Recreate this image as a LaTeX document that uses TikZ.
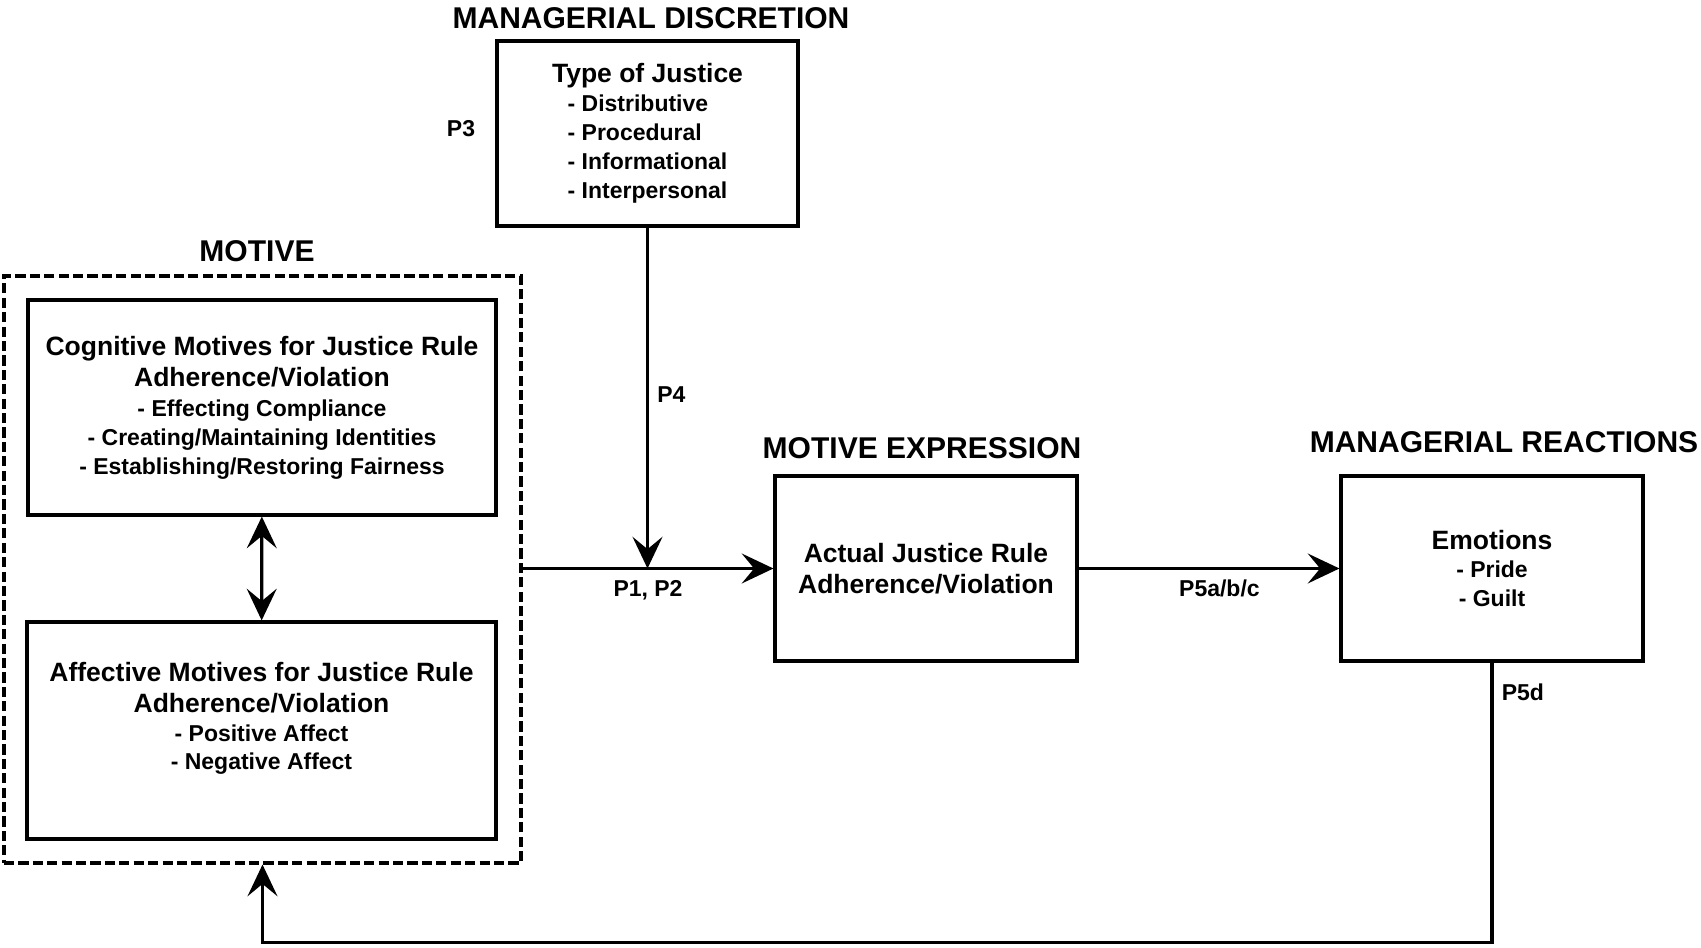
\documentclass[tikz,border=0pt]{standalone}
\usepackage{fontspec}
\setmainfont{Liberation Sans}
\usetikzlibrary{arrows.meta}

\newcommand{\titlefont}{\fontsize{8.54}{10.2}\selectfont\bfseries}
\newcommand{\headfont}{\fontsize{7.54}{8.8}\selectfont\bfseries}
\newcommand{\itemfont}{\fontsize{6.54}{8.2}\selectfont\bfseries}

\begin{document}
\begin{tikzpicture}[>={Stealth[length=9pt,width=8.5pt,inset=3.5pt]},
  box/.style={draw,line width=0.9pt,align=center,font=\itemfont,inner sep=0pt},
  group/.style={draw,line width=0.9pt,dash pattern=on 2.9pt off 1.2pt,inner sep=0pt},
  title/.style={font=\titlefont},
  plabel/.style={font=\itemfont},
  link/.style={line width=0.9pt}]
\useasboundingbox (0,0) rectangle (17.01,9.47);
% boxes
\node[box,minimum width=3.01cm,minimum height=1.85cm] (type) at (6.475,8.135)
  {{\headfont Type of Justice}\\
   \begin{tabular}[t]{@{}l@{}}- Distributive\\- Procedural\\- Informational\\- Interpersonal\end{tabular}\\[-2pt]\mbox{}};
\node[group,minimum width=5.17cm,minimum height=5.87cm] (motive) at (2.625,3.775) {};
\node[box,minimum width=4.68cm,minimum height=2.15cm] (cog) at (2.62,5.395)
  {{\headfont Cognitive Motives for Justice Rule}\\[0.6pt]
   {\headfont Adherence/Violation}\\[0.4pt]
   - Effecting Compliance\\
   - Creating/Maintaining Identities\\
   - Establishing/Restoring Fairness};
\node[box,minimum width=4.69cm,minimum height=2.17cm] (aff) at (2.615,2.165)
  {{\headfont Affective Motives for Justice Rule}\\[0.6pt]
   {\headfont Adherence/Violation}\\
   - Positive Affect\\
   - Negative Affect\\ \mbox{}};
\node[box,font=\headfont,minimum width=3.02cm,minimum height=1.85cm] (actual) at (9.26,3.785)
  {Actual Justice Rule\\Adherence/Violation};
\node[box,minimum width=3.02cm,minimum height=1.85cm] (emo) at (14.92,3.785)
  {{\headfont Emotions}\\- Pride\\- Guilt};
% titles
\node[title] (tdisc) at (6.51,9.29) {MANAGERIAL DISCRETION};
\node[title] (tmot) at (2.57,6.96) {MOTIVE};
\node[title] (texp) at (9.22,4.99) {MOTIVE EXPRESSION};
\node[title] (treac) at (15.04,5.05) {MANAGERIAL REACTIONS};
\node[plabel] (p3) at (4.61,8.18) {P3};
% links
\coordinate (join) at (type.south |- actual.west);
\coordinate (low) at (0,0.045);
\draw[link,->] (type) -- (join) node[plabel,pos=0.49,right=-1pt] (p4) {P4};
\draw[link,->] (motive.east |- actual.west) -- (actual) node[plabel,pos=0.5,below=-0.5pt] (p12) {P1, P2};
\draw[link,->] (actual) -- (emo) node[plabel,pos=0.54,below=-0.5pt] (p5abc) {P5a/b/c};
\draw[link,<->] (cog) -- (aff);
\draw[link,->] (emo.south) -- node[plabel,pos=0.107,right=-1pt] (p5d) {P5d} (emo.south |- low) -| (motive.south);
\end{tikzpicture}
\end{document}
